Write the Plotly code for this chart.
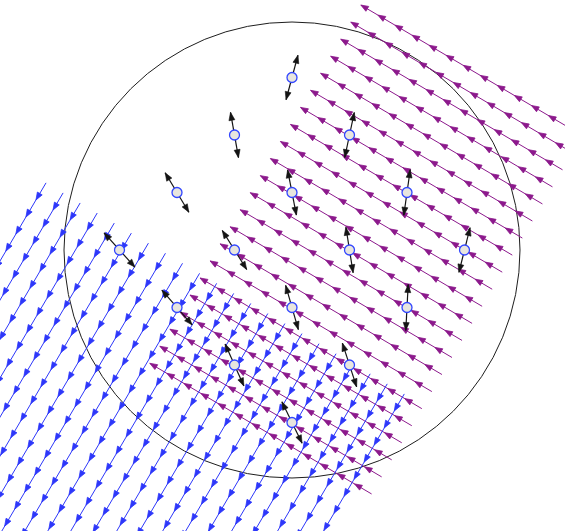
import numpy as np
import plotly.graph_objects as go

# ---- lattice of the two uniform fields (units: px, origin at the circle centre, y up)
ANGLE_DEG = 30.5          # tilt of the stream lattice
STEP = 19.8               # spacing of streams and of arrows along a stream

# purple field: streams point "up-left" (-e1); rows are offsets along e2
purple_row_first, purple_row_count = -246.0, 22
purple_tip_first, purple_tip_count = -65.0, 13

# blue field: streams point "down-left" (+e2); columns are offsets along e1
blue_col_first, blue_col_count = -246.0, 22
blue_tail_first, blue_arrow_count = 67.0, 24

# ---- boundary circle
circle_radius = 228.0

# ---- director markers: position and tilt of the double arrow (deg from vertical, clockwise)
marker_x = [0.0, -57.5, 57.5, -115.0, 0.0, 115.0, -172.5, -57.5, 57.5, 172.5,
            -115.0, 0.0, 115.0, -57.5, 57.5, 0.0]
marker_y = [172.5, 115.0, 115.0, 57.5, 57.5, 57.5, 0.0, 0.0, 0.0, 0.0,
            -57.5, -57.5, -57.5, -115.0, -115.0, -172.5]
marker_tilt = [15, -10, 12, -31, -11, 8, -42, -32, -9, 14,
               -41, -16, 3, -24, -18, -26]
DIRECTOR_HALF = 23.0

PURPLE = "rgb(140,25,140)"
BLUE = "rgb(45,55,250)"
BLACK = "rgb(20,20,20)"

th = np.deg2rad(ANGLE_DEG)
e1 = np.array([np.cos(th), -np.sin(th)])    # down-right on screen
e2 = np.array([-np.sin(th), -np.cos(th)])   # down-left on screen


def add_head(hx, hy, tip, d, length, half_w):
    """Closed triangle for an arrowhead at `tip` pointing along unit vector d."""
    n = np.array([-d[1], d[0]])
    base = tip - d * length
    p1 = base + n * half_w
    p2 = base - n * half_w
    hx += [tip[0], p1[0], p2[0], tip[0], None]
    hy += [tip[1], p1[1], p2[1], tip[1], None]


def field(rows, along, direction, offset_axis, along_axis, head_len, head_w):
    """Streams: one continuous shaft per row plus a head at each arrow tip."""
    sx, sy, hx, hy = [], [], [], []
    for r in rows:
        pts = [r * offset_axis + a * along_axis for a in along]
        sx += [pts[0][0], pts[-1][0], None]
        sy += [pts[0][1], pts[-1][1], None]
    return sx, sy, hx, hy


fig = go.Figure()

# purple field
p_rows = purple_row_first + STEP * np.arange(purple_row_count)
p_tips = purple_tip_first + STEP * np.arange(purple_tip_count)
psx, psy, phx, phy = [], [], [], []
for v in p_rows:
    start = p_tips[-1] + STEP
    a = start * e1 + v * e2
    b = p_tips[0] * e1 + v * e2
    psx += [a[0], b[0], None]
    psy += [a[1], b[1], None]
    for u in p_tips:
        add_head(phx, phy, u * e1 + v * e2, -e1, 7.5, 2.8)

# blue field
b_cols = blue_col_first + STEP * np.arange(blue_col_count)
b_tails = blue_tail_first + STEP * np.arange(blue_arrow_count)
bsx, bsy, bhx, bhy = [], [], [], []
for u in b_cols:
    a = u * e1 + b_tails[0] * e2
    b = u * e1 + (b_tails[-1] + STEP) * e2
    bsx += [a[0], b[0], None]
    bsy += [a[1], b[1], None]
    for v in b_tails:
        add_head(bhx, bhy, u * e1 + (v + STEP) * e2, e2, 7.5, 2.8)

for sx, sy, hx, hy, col in [(psx, psy, phx, phy, PURPLE), (bsx, bsy, bhx, bhy, BLUE)]:
    fig.add_trace(go.Scatter(x=sx, y=sy, mode="lines",
                             line=dict(color=col, width=1), hoverinfo="skip"))
    fig.add_trace(go.Scatter(x=hx, y=hy, mode="lines", fill="toself",
                             fillcolor=col, line=dict(color=col, width=0.8),
                             hoverinfo="skip"))

# director double arrows
dsx, dsy, dhx, dhy = [], [], [], []
for x0, y0, t in zip(marker_x, marker_y, marker_tilt):
    d = np.array([np.sin(np.deg2rad(t)), np.cos(np.deg2rad(t))])
    c = np.array([x0, y0])
    top, bot = c + DIRECTOR_HALF * d, c - DIRECTOR_HALF * d
    dsx += [bot[0], top[0], None]
    dsy += [bot[1], top[1], None]
    add_head(dhx, dhy, top, d, 8, 3)
    add_head(dhx, dhy, bot, -d, 8, 3)
fig.add_trace(go.Scatter(x=dsx, y=dsy, mode="lines",
                         line=dict(color=BLACK, width=1.2), hoverinfo="skip"))
fig.add_trace(go.Scatter(x=dhx, y=dhy, mode="lines", fill="toself",
                         fillcolor=BLACK, line=dict(color=BLACK, width=0.6),
                         hoverinfo="skip"))

# director markers
fig.add_trace(go.Scatter(x=marker_x, y=marker_y, mode="markers",
                         marker=dict(size=10, color="rgb(232,230,222)",
                                     line=dict(color="rgb(50,70,255)", width=1.3)),
                         hoverinfo="skip"))

fig.add_shape(type="circle", xref="x", yref="y",
              x0=-circle_radius, y0=-circle_radius, x1=circle_radius, y1=circle_radius,
              line=dict(color="rgb(30,30,30)", width=1), layer="below")

fig.update_layout(
    width=565, height=531,
    margin=dict(l=0, r=0, t=0, b=0),
    paper_bgcolor="white", plot_bgcolor="white",
    showlegend=False,
    xaxis=dict(range=[-292, 273], visible=False, fixedrange=True),
    yaxis=dict(range=[-281, 250], visible=False, fixedrange=True),
)

fig.write_html("out.html")
